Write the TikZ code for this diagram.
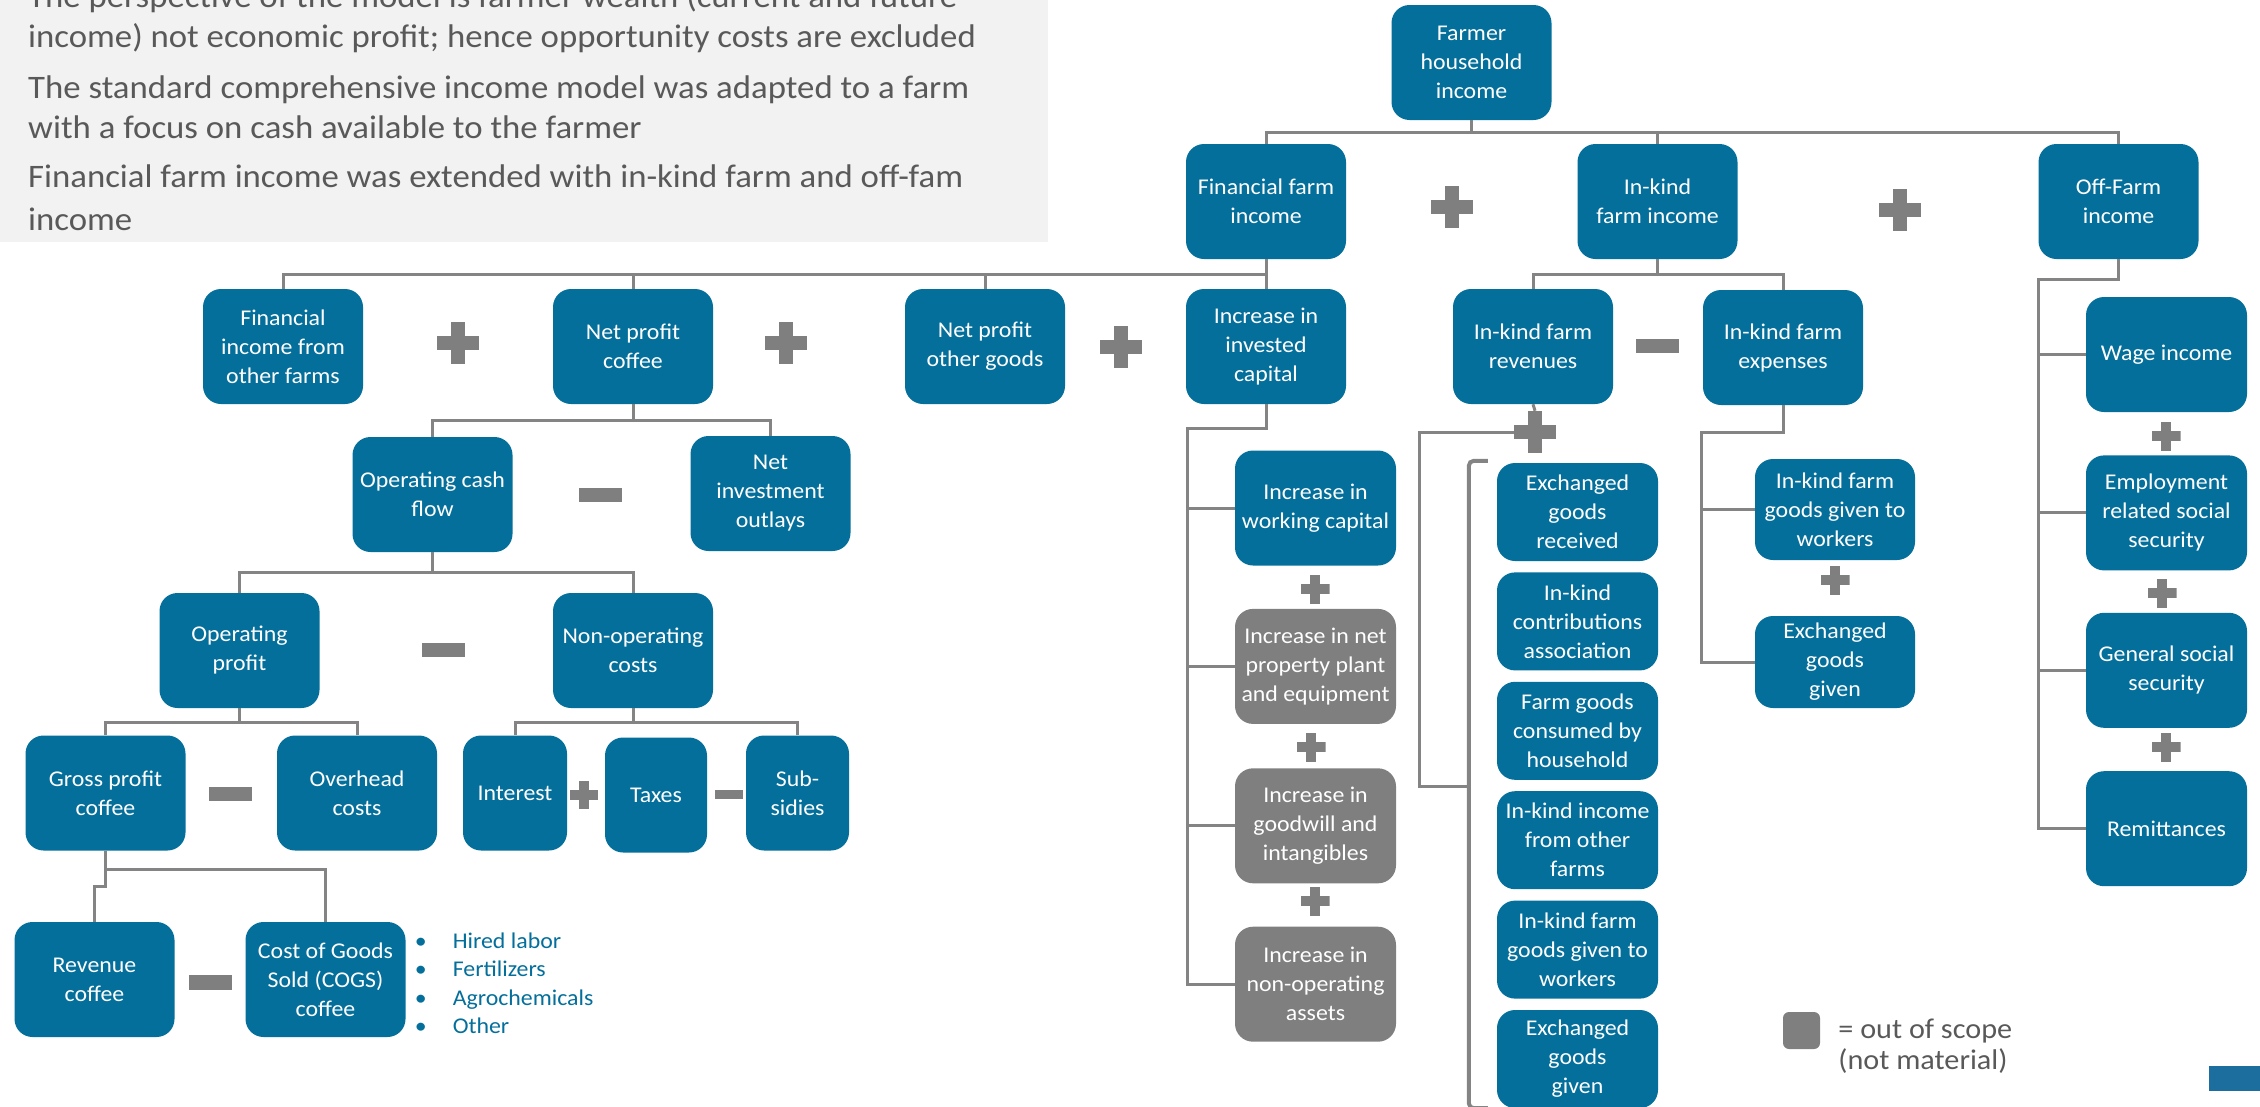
\documentclass[tikz,border=0pt]{standalone}
\usepackage{fontspec}
\setmainfont{Carlito}[FakeStretch=1.06]
\usepackage{tikz}
\usetikzlibrary{positioning}
\usetikzlibrary{calc}

\definecolor{boxblue}{RGB}{4,111,155}
\definecolor{oosgrey}{RGB}{127,127,127}
\definecolor{signgrey}{RGB}{127,127,127}
\definecolor{linegrey}{RGB}{132,132,132}
\definecolor{hdrgrey}{RGB}{242,242,242}
\definecolor{hdrtext}{RGB}{89,89,89}
\definecolor{tabblue}{RGB}{28,110,158}

\begin{document}
\begin{tikzpicture}[x=1pt, y=-1pt,
  box/.style={rectangle, rounded corners=18pt, fill=boxblue, text=white, align=center, inner sep=0pt,
    minimum width=160pt, minimum height=115pt, font=\fontsize{22.5}{29}\selectfont},
  oos/.style={box, fill=oosgrey},
  ikbox/.style={box, minimum width=161pt, minimum height=98pt},
  lnk/.style={draw=linegrey, line width=3pt},
  addsign/.style={inner sep=0pt, minimum size=#1, path picture={
    \fill[signgrey] ([yshift=-#1/6]path picture bounding box.west) rectangle ([yshift=#1/6]path picture bounding box.east);
    \fill[signgrey] ([xshift=-#1/6]path picture bounding box.south) rectangle ([xshift=#1/6]path picture bounding box.north);}},
  addsign/.default=42pt,
  subsign/.style={inner sep=0pt, fill=signgrey, minimum width=#1, minimum height=#1/3},
  subsign/.default=43pt,
  hdr/.style={anchor=base west, inner sep=0pt, text=hdrtext, font=\fontsize{32.8}{40}\selectfont}]
\useasboundingbox (0,0) rectangle (2260,1106);

\fill[hdrgrey] (0,0) rectangle (1048,242);
\node[hdr] (h1) at (28,7) {The perspective of the model is farmer wealth (current and future};
\node[hdr] (h2) at (28,47) {income) not economic profit; hence opportunity costs are excluded};
\node[hdr] (h3) at (28,98) {The standard comprehensive income model was adapted to a farm};
\node[hdr] (h4) at (28,138) {with a focus on cash available to the farmer};
\node[hdr] (h5) at (28,187) {Financial farm income was extended with in-kind farm and off-fam};
\node[hdr] (h6) at (28,230) {income};

\node[box] (top) at (1471.5,62.5) {Farmer\\household\\income};
\node[box] (fin) at (1266,201.5) {Financial farm\\income};
\node[box] (ink) at (1657.5,201.5) {In-kind\\farm income};
\node[box] (off) at (2118.5,201.5) {Off-Farm\\income};
\node[addsign] (s1) at (1452,207) {};
\node[addsign] (s2) at (1900,210) {};

\node[box] (fof) at (283,346.5) {Financial\\income from\\other farms};
\node[box] (npc) at (633,346.5) {Net profit\\coffee};
\node[box] (npo) at (985,346.5) {Net profit\\other goods};
\node[box] (iic) at (1266,346.5) {Increase in\\invested\\capital};
\node[addsign] (s3) at (458,343) {};
\node[addsign] (s4) at (786,343) {};
\node[addsign] (s5) at (1121,347) {};

\node[box] (ocf) at (432.5,494.5) {Operating cash\\flow};
\node[box] (nio) at (770.5,493.5) {Net\\investment\\outlays};
\node[subsign] (m1) at (600,495) {};

\node[box] (op) at (239.5,650.5) {Operating\\profit};
\node[box] (noc) at (633,650.5) {Non-operating\\costs};
\node[subsign] (m2) at (443,650) {};

\node[box] (gpc) at (105.5,793) {Gross profit\\coffee};
\node[box] (ohc) at (357,793) {Overhead\\costs};
\node[subsign] (m3) at (230,794) {};
\node[box, minimum width=104pt] (int) at (515,793) {Interest};
\node[box, minimum width=102pt] (tax) at (656,795) {Taxes};
\node[box, minimum width=103pt] (sub) at (797.5,793) {Sub-\\sidies};
\node[addsign=28pt] (s6) at (584,795) {};
\node[subsign=28pt] (m4) at (729,794.5) {};

\node[box] (rvc) at (94.5,979.5) {Revenue\\coffee};
\node[box] (cogs) at (325.5,979.5) {Cost of Goods\\Sold (COGS)\\coffee};
\node[subsign] (m5) at (210.5,982.5) {};
\node[right=9pt of cogs, yshift=-4pt, align=left, inner sep=0pt, text=boxblue,
  font=\fontsize{22.5}{28.5}\selectfont] (cogsitems)
  {\textbullet\hspace{26pt}Hired labor\\\textbullet\hspace{26pt}Fertilizers\\
   \textbullet\hspace{26pt}Agrochemicals\\\textbullet\hspace{26pt}Other};

\node[box, minimum width=161pt] (iwc) at (1315.5,508) {Increase in\\working capital};
\node[oos, minimum width=161pt, below=43pt of iwc] (ppe) {Increase in net\\property plant\\and equipment};
\node[oos, minimum width=161pt, below=44pt of ppe] (gw) {Increase in\\goodwill and\\intangibles};
\node[oos, minimum width=161pt, below=43pt of gw] (noa) {Increase in\\non-operating\\assets};
\node[addsign=29pt] (s7) at (1315,589) {};
\node[addsign=29pt] (s8) at (1311,747) {};
\node[addsign=29pt] (s9) at (1315,901) {};

\node[box] (rev) at (1533,346.5) {In-kind farm\\revenues};
\node[box] (exp) at (1783,347.5) {In-kind farm\\expenses};
\node[subsign] (m6) at (1657,346) {};
\node[addsign] (rp) at (1535,432) {};

\node[ikbox] (ex1) at (1577.5,512) {Exchanged\\goods\\received};
\node[ikbox, below=11pt of ex1] (ikc) {In-kind\\contributions\\association};
\node[ikbox, below=11pt of ikc] (fgc) {Farm goods\\consumed by\\household};
\node[ikbox, below=11pt of fgc] (iio) {In-kind income\\from other\\farms};
\node[ikbox, below=11pt of iio] (ikw) {In-kind farm\\goods given to\\workers};
\node[ikbox, below=11pt of ikw] (ex2) {Exchanged\\goods\\given};

\node[box, minimum height=101pt] (ikw2) at (1835,509.5) {In-kind farm\\goods given to\\workers};
\node[box, minimum height=92pt] (exg) at (1835,662) {Exchanged\\goods\\given};
\node[addsign=29pt] (s10) at (1835,580) {};

\node[box, minimum width=161pt] (wage) at (2166.5,354.5) {Wage income};
\node[box, minimum width=161pt, below=43pt of wage] (emp) {Employment\\related social\\security};
\node[box, minimum width=161pt, below=42pt of emp] (gen) {General social\\security};
\node[box, minimum width=161pt, below=43pt of gen] (rem) {Remittances};
\node[addsign=29pt] (s11) at (2166,436) {};
\node[addsign=29pt] (s12) at (2162,593) {};
\node[addsign=29pt] (s13) at (2166,747) {};

\draw[lnk] (top.south) -- ++(0,12) coordinate (b0) -| (fin.north);
\draw[lnk] (b0) -| (ink.north);
\draw[lnk] (b0) -| (off.north);

\draw[lnk] (fin.south) -- ++(0,15) coordinate (b1) -| (fof.north);
\draw[lnk] (b1) -| (npc.north);
\draw[lnk] (b1) -| (npo.north);
\draw[lnk] (b1) -- (iic.north);

\draw[lnk] (npc.south) -- ++(0,16) coordinate (b2) -| (ocf.north);
\draw[lnk] (b2) -| (nio.north);
\draw[lnk] (ocf.south) -- ++(0,20) coordinate (b3) -| (op.north);
\draw[lnk] (b3) -| (noc.north);
\draw[lnk] (op.south) -- ++(0,14) coordinate (b4) -| (gpc.north);
\draw[lnk] (b4) -| (ohc.north);
\draw[lnk] (noc.south) -- ++(0,14) coordinate (b5) -| (int.north);
\draw[lnk] (b5) -| (sub.north);
\draw[lnk] (gpc.south) -- ++(0,19) coordinate (b6) -| (cogs.north);
\draw[lnk] (b6) -- ++(0,17) -| (rvc.north);

\draw[lnk] (iic.south) -- ++(0,24) -- ++(-79,0) coordinate (b7) |- (noa.west);
\draw[lnk] (b7) |- (iwc.west);
\draw[lnk] (b7) |- (ppe.west);
\draw[lnk] (b7) |- (gw.west);

\draw[lnk] (ink.south) -- ++(0,15) coordinate (b8) -| (rev.north);
\draw[lnk] (b8) -| (exp.north);
\draw[lnk] (rev.south) -- (rp.north);
\draw[lnk, line width=4pt, rounded corners=5pt] ($(ex1.north west)+(-9,-2)$) -- ++(-19,0) coordinate (k1)
  -- (k1 |- ex2.south) -- ++(19,0);
\path (k1 |- fgc.south) ++(0,6) coordinate (k2);
\draw[lnk] (rp.west) -- ++(-94,0) |- (k2);

\draw[lnk] (exp.south) -- ++(0,27) -- ++(-82,0) coordinate (b9) |- (exg.west);
\draw[lnk] (b9) |- (ikw2.west);

\draw[lnk] (off.south) -- ++(0,20) -- ++(-80.5,0) coordinate (b10) |- (rem.west);
\draw[lnk] (b10) |- (wage.west);
\draw[lnk] (b10) |- (emp.west);
\draw[lnk] (b10) |- (gen.west);

\node[fill=oosgrey, rounded corners=6pt, minimum size=37pt, inner sep=0pt] (leg) at (1801.5,1030.5) {};
\node[right=18pt of leg, yshift=-16pt, align=left, text=hdrtext, inner sep=0pt,
  font=\fontsize{28.5}{31}\selectfont] (legtxt) {= out of scope\\(not material)};
\fill[tabblue] (2209,1066) rectangle (2262,1091);
\end{tikzpicture}
\end{document}
